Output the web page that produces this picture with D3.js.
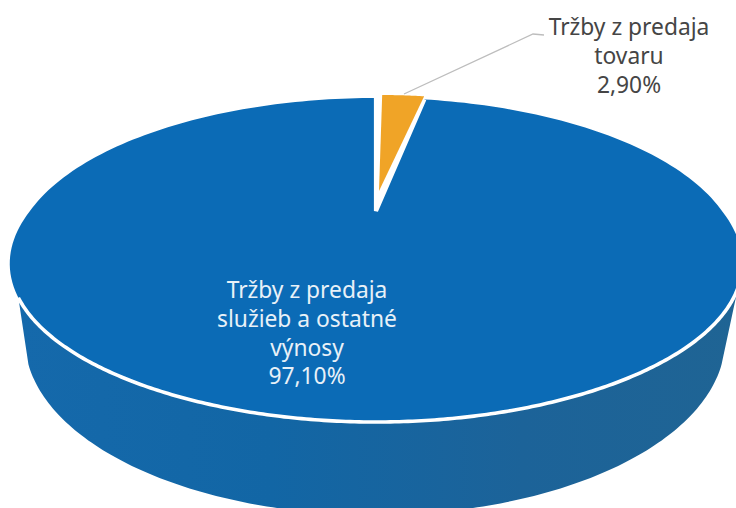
<!DOCTYPE html>
<html><head><meta charset="utf-8">
<script src="https://cdn.jsdelivr.net/npm/d3@7/dist/d3.min.js"></script>
<style>html,body{margin:0;background:#fff}svg{display:block}text{font-family:"Noto Sans",sans-serif}</style>
</head><body><svg id="c" width="736" height="508"></svg>
<script>
const categories = ["Tržby z predaja tovaru", "Tržby z predaja služieb a ostatné výnosy"];
const values = [2.90, 97.10];
const labelLinesTovar = ["Tržby z predaja", "tovaru", "2,90%"];
const labelLinesSluzby = ["Tržby z predaja", "služieb a ostatné", "výnosy", "97,10%"];

const svg = d3.select("#c");
const defs = svg.append("defs");
const grad = defs.append("linearGradient").attr("id","side").attr("x1",0).attr("x2",1).attr("y1",0).attr("y2",0);
[[0,"#1569ab"],[0.35,"#1266a5"],[0.7,"#1c6399"],[1,"#1f6494"]].forEach(([o,c])=>grad.append("stop").attr("offset",o).attr("stop-color",c));

// perspective projection of the pie's unit circle onto the page
const cx=376, cy=211, R=346, Rv=147.2, k=0.3025, bulge=0.03;
const project = a=>{
  const u=Math.sin(a), v=Math.cos(a), w=1+k*v;
  const f=1+bulge*Math.max(0,-v)*Math.abs(u);
  return [cx+R*u*f/w, cy-Rv*v/w];
};
const line = d3.line();
const samples = (a0,a1,n=240)=>d3.range(n+1).map(i=>a0+(a1-a0)*i/n);

const arcs = d3.pie().sort(null).value(d=>d)(values);
const o = arcs[0], blue = arcs[1];

// side wall
const bottom = {cx:375, cy:340, rx:350, ry:175};
const rimPts = samples(116.7*Math.PI/180, 240*Math.PI/180).map(project);
const lowPts = d3.range(172,7,-1).map(d=>d*Math.PI/180)
  .map(t=>[bottom.cx+bottom.rx*Math.cos(t), bottom.cy+bottom.ry*Math.sin(t)]);
svg.append("path").attr("d",line(rimPts.concat(lowPts))+"Z").attr("fill","url(#side)");

// main slice
svg.append("path")
  .attr("d",line([[cx,cy]].concat(samples(blue.startAngle,blue.endAngle).map(project)))+"Z")
  .attr("fill","#0b6bb6");
// white separator along front rim
svg.append("path").attr("d",line(rimPts)).attr("fill","none").attr("stroke","#fff").attr("stroke-width",3.6);
// white edges at the wedge
svg.append("path").attr("d",line([project(o.startAngle),[cx,cy],project(o.endAngle)]))
  .attr("fill","none").attr("stroke","#fff").attr("stroke-width",4.2);

// exploded wedge
svg.append("path")
  .attr("transform","translate(3,-3)")
  .attr("d",line([[cx,cy-17]].concat(samples(o.startAngle+0.012,o.endAngle-0.012,20).map(project)))+"Z")
  .attr("fill","#f0a427");

// leader
svg.append("path").attr("d",line([[404,94],[533,34],[544,35]]))
  .attr("fill","none").attr("stroke","#bdbdbd").attr("stroke-width",1.3);

// labels
const put=(lines,x,y0,fill)=>svg.append("g").selectAll("text").data(lines).join("text")
  .attr("x",x).attr("y",(d,i)=>y0+i*28.8).attr("text-anchor","middle")
  .attr("font-size",22.8).attr("fill",fill).text(d=>d);
put(labelLinesTovar,629,35,"#454545");
put(labelLinesSluzby,307,298,"#e8f1f8");
</script></body></html>
